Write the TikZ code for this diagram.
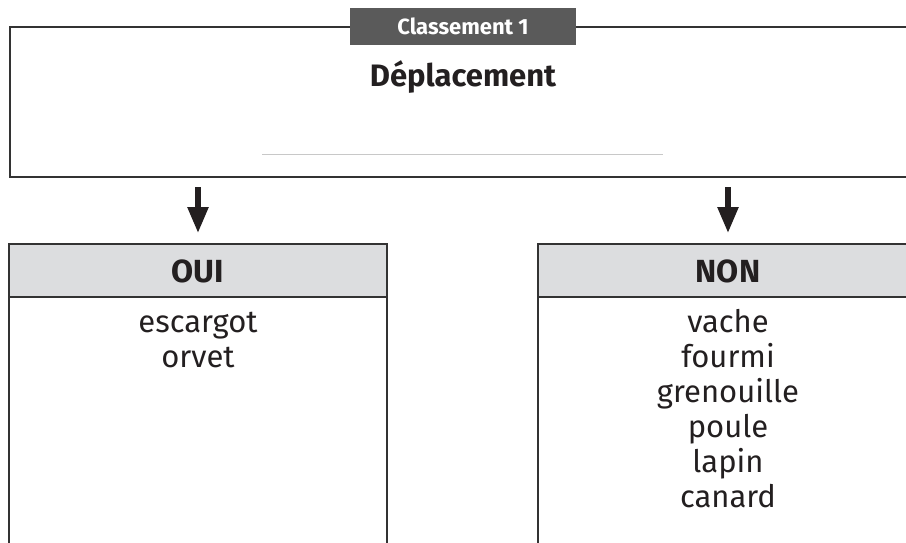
\documentclass[tikz,border=0pt]{standalone}
\usepackage{fontspec}
\setmainfont{Fira Sans}
\usetikzlibrary{arrows.meta}
\definecolor{frame}{HTML}{333333}
\definecolor{tabgray}{HTML}{5A5A5A}
\definecolor{headgray}{HTML}{DCDDDF}
\definecolor{ink}{HTML}{231F20}
\definecolor{rule}{HTML}{C8C8C8}
\begin{document}
\begin{tikzpicture}[x=1pt,y=-1pt,
  framed/.style={draw=frame,line width=1.6pt},
  item/.style={anchor=base,inner sep=0pt,text=ink,font=\fontsize{31}{36}\selectfont},
  headtext/.style={inner sep=0pt,text=ink,font=\fontsize{32}{36}\selectfont\bfseries},
  arr/.style={draw=ink,line width=5.5pt,-{Triangle[width=20pt,length=26pt]}}]
\useasboundingbox (0,0) rectangle (906,542);
\begin{scope}
\clip (0,0) rectangle (906,542);
% top box
\draw[framed] (920,27) -- (10,27) -- (10,177) -- (920,177);
\draw[rule,line width=1pt] (262,154) -- (663,154);
\node[fill=tabgray,minimum width=226pt,minimum height=37pt,inner sep=0pt,text=white,font=\fontsize{22}{26}\selectfont\bfseries] (tab) at (463,26) {Classement 1};
\node[headtext,anchor=base,font=\fontsize{31}{36}\selectfont\bfseries] (title) at (463,86) {Déplacement};
% OUI box
\fill[headgray] (9,244) rectangle (387,297);
\draw[framed] (9,560) -- (9,244) -- (387,244) -- (387,560);
\draw[framed] (9,297) -- (387,297);
\node[headtext,anchor=base] (oui) at (198,282) {OUI};
% NON box
\fill[headgray] (538,244) rectangle (920,297);
\draw[framed] (538,560) -- (538,244) -- (920,244);
\draw[framed] (538,297) -- (920,297);
\node[headtext,anchor=base] (non) at (728,282) {NON};
\end{scope}
% arrows
\coordinate (a1s) at (198,187);
\coordinate (a1e) at (198,233);
\coordinate (a2s) at (728,187);
\coordinate (a2e) at (728,233);
\draw[arr] (a1s) -- (a1e);
\draw[arr] (a2s) -- (a2e);
% lists
\node[item] (i1) at (198,332) {escargot};
\node[item] (i2) at (198,367) {orvet};
\node[item] (n1) at (728,332) {vache};
\node[item] (n2) at (728,367) {fourmi};
\node[item] (n3) at (728,402) {grenouille};
\node[item] (n4) at (728,437) {poule};
\node[item] (n5) at (728,472) {lapin};
\node[item] (n6) at (728,507) {canard};
\end{tikzpicture}
\end{document}
